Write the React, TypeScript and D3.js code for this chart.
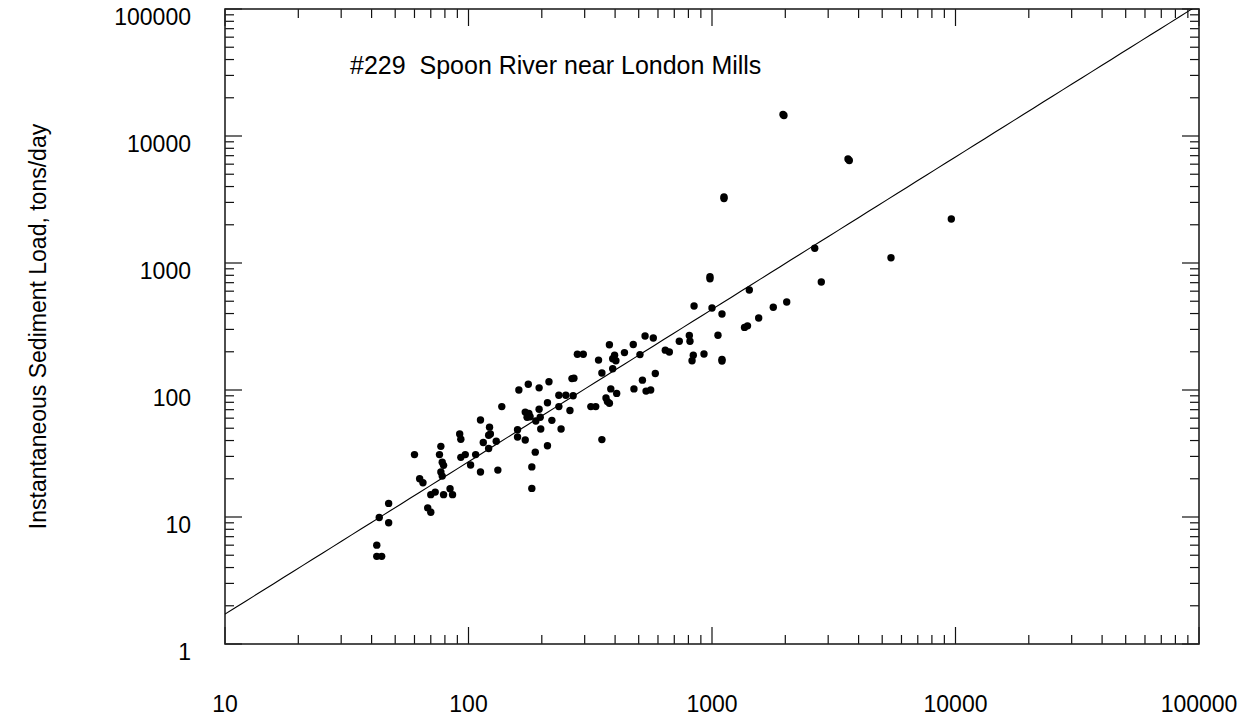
import * as d3 from "d3";

// discharge (x) and instantaneous sediment load (y)
const discharge = [
  42, 42, 44, 43, 47, 47, 60, 63, 65, 68,
  70, 70, 73, 79, 84, 86, 77, 76, 78, 79,
  77, 78, 93, 97, 92, 93, 102, 107, 112, 115,
  121, 130, 132, 112, 122, 123, 121, 137, 159, 159,
  171, 161, 176, 195, 214, 171, 177, 179, 174, 189,
  197, 195, 198, 211, 220, 240, 235, 251, 269, 235,
  261, 266, 271, 280, 296, 318, 333, 353, 188, 211,
  182, 182, 342, 353, 379, 391, 398, 391, 403, 437,
  475, 506, 531, 574, 518, 478, 536, 560, 384, 406,
  367, 372, 379, 585, 643, 668, 734, 807, 812, 838,
  828, 927, 1099, 1099, 844, 1000, 1099, 1058, 981, 981,
  1423, 1360, 1399, 1555, 1785, 2027, 2642, 2811, 1120, 1120,
  1957, 1975, 3618, 3663, 5434, 9612,
];
const load = [
  6, 4.9, 4.9, 9.9, 12.8, 9, 31, 20, 18.6, 11.8,
  10.9, 15, 15.7, 15, 16.7, 15, 36, 31, 27, 25.5,
  22.6, 21, 29.5, 31, 45, 41, 25.7, 31, 22.6, 38.6,
  34.6, 39.5, 23.4, 58, 51, 45, 44, 74, 48.7, 42.7,
  40.4, 100, 111, 104, 116, 67, 65.5, 61.6, 61, 57,
  61, 70.5, 49.3, 79.4, 57.7, 49.3, 91, 91, 90, 74,
  69, 123, 124, 191, 191, 74, 74, 40.7, 32.4, 36.4,
  24.8, 16.8, 172, 136, 227, 147, 188, 176, 170, 197,
  228, 190, 266, 257, 119.5, 102, 98, 100, 102, 94,
  86.5, 81, 78.6, 135, 206, 199, 242, 269, 242, 188,
  170, 192, 174, 169, 459, 442, 397, 270, 780, 752,
  613, 311, 320, 369, 448, 493, 1305, 709, 3310, 3220,
  14770, 14500, 6590, 6410, 1100, 2220,
];

// rating curve: load = coef * discharge ^ expo
const coef = Math.pow(10, -0.965);
const expo = 1.2;

const xTickLabels = ["10", "100", "1000", "10000", "100000"];
const yTickLabels = ["1", "10", "100", "1000", "10000", "100000"];

const title = "#229  Spoon River near London Mills";
const yTitle = "Instantaneous Sediment Load, tons/day";

const W = 1252;
const H = 724;
const left = 225, right = 1199, top = 9, bottom = 644;
const font = "'Liberation Sans', Arial, sans-serif";

export default function App() {
  const x = d3.scaleLog().domain([10, 100000]).range([left, right]);
  const y = d3.scaleLog().domain([1, 100000]).range([bottom, top]);

  const xMajor = xTickLabels.map(Number);
  const yMajor = yTickLabels.map(Number);
  const minors = (dom: number[]) => {
    var out: number[] = [];
    for (var d = dom[0]; d < dom[1]; d *= 10)
      for (var k = 2; k <= 9; k++) out.push(d * k);
    return out;
  };
  const xMinor = minors([10, 100000]);
  const yMinor = minors([1, 100000]);

  const majLen = 17;
  const minLen = 9;

  const fitX = d3.range(0, 101).map((i) => Math.pow(10, 1 + (4 * i) / 100));
  const fitLine = d3
    .line<number>()
    .x((d) => x(d))
    .y((d) => y(coef * Math.pow(d, expo)));

  return (
    <svg
      width={W}
      height={H}
      style={{ position: "absolute", left: 0, top: 0, background: "#fff" }}
      fontFamily={font}
    >
      <defs>
        <clipPath id="plotclip">
          <rect x={left} y={top} width={right - left} height={bottom - top} />
        </clipPath>
      </defs>

      {/* ticks, inward on all four sides */}
      <g stroke="#111" strokeWidth={1.2}>
        {xMinor.map((v) => (
          <g key={"xm" + v}>
            <line x1={x(v)} x2={x(v)} y1={bottom} y2={bottom - minLen} />
            <line x1={x(v)} x2={x(v)} y1={top} y2={top + minLen} />
          </g>
        ))}
        {xMajor.map((v) => (
          <g key={"xM" + v}>
            <line x1={x(v)} x2={x(v)} y1={bottom} y2={bottom - majLen} />
            <line x1={x(v)} x2={x(v)} y1={top} y2={top + majLen} />
          </g>
        ))}
        {yMinor.map((v) => (
          <g key={"ym" + v}>
            <line x1={left} x2={left + minLen} y1={y(v)} y2={y(v)} />
            <line x1={right} x2={right - minLen} y1={y(v)} y2={y(v)} />
          </g>
        ))}
        {yMajor.map((v) => (
          <g key={"yM" + v}>
            <line x1={left} x2={left + majLen} y1={y(v)} y2={y(v)} />
            <line x1={right} x2={right - majLen} y1={y(v)} y2={y(v)} />
          </g>
        ))}
      </g>

      <rect
        x={left}
        y={top}
        width={right - left}
        height={bottom - top}
        fill="none"
        stroke="#222"
        strokeWidth={1.6}
      />

      <path
        d={fitLine(fitX) || ""}
        fill="none"
        stroke="#000"
        strokeWidth={1.1}
        clipPath="url(#plotclip)"
      />

      <g fill="#000">
        {discharge.map((q, i) => (
          <circle key={i} cx={x(q)} cy={y(load[i])} r={3.7} />
        ))}
      </g>

      <g fontSize={23} fill="#000">
        {xTickLabels.map((t, i) => (
          <text key={"xl" + t} x={x(xMajor[i])} y={712} textAnchor="middle">
            {t}
          </text>
        ))}
        {yTickLabels.map((t, i) => (
          <text key={"yl" + t} x={191} y={y(yMajor[i]) + 16} textAnchor="end">
            {t}
          </text>
        ))}
      </g>

      <text x={350} y={74} fontSize={25} fill="#000" style={{ whiteSpace: "pre" }}>
        {title}
      </text>

      <text
        transform={"translate(46," + (top + bottom) / 2 + ") rotate(-90)"}
        textAnchor="middle"
        fontSize={23}
        fill="#000"
      >
        {yTitle}
      </text>
    </svg>
  );
}
